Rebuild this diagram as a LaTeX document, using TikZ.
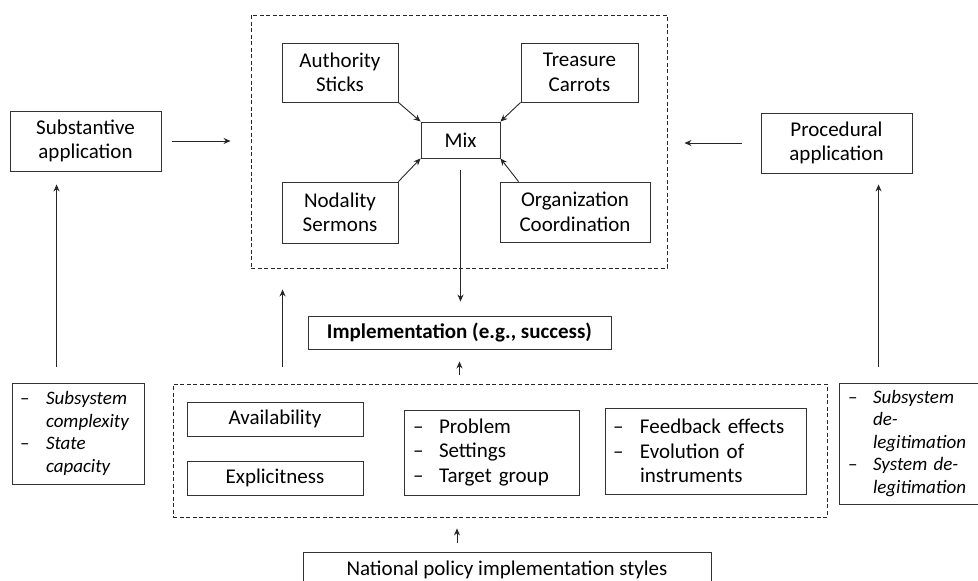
\documentclass[tikz,border=0pt]{standalone}
\usepackage{fontspec}
\setmainfont{Carlito}
\usetikzlibrary{arrows.meta, positioning}

\newcommand{\itemdash}[1][26pt]{\makebox[#1][l]{\upshape –}}

\begin{document}
\begin{tikzpicture}[x=1pt, y=-1pt, on grid, line width=0.9pt, >={Stealth[length=7pt, width=6pt]},
    box/.style={draw=black!80, align=center, inner sep=0pt,
                font=\fontsize{21}{24.5}\selectfont},
    listbox/.style={box, align=left},
    sidelist/.style={listbox, font=\fontsize{19}{22.5}\selectfont\itshape},
    frame/.style={draw=black!85, dash pattern=on 4pt off 2.5pt},
    conn/.style={->, draw=black!85}]
    \useasboundingbox (0,0) rectangle (978,581);
    \clip (0,0) rectangle (978,581);

    % instrument mix
    \node[frame, minimum width=416pt, minimum height=253pt] (mixframe) at (459,141.5) {};
    \node[box, minimum width=79pt, minimum height=36pt] (mix) at (460.5,140) {Mix};
    \node[box, minimum width=116pt, minimum height=59pt] (auth) at (340,72.5) {Authority\\Sticks};
    \node[box, minimum width=117pt, minimum height=59pt, right=239.5pt of auth] (treas) {Treasure\\Carrots};
    \node[box, minimum width=116pt, minimum height=61pt, below=140pt of auth] (nodal) {Nodality\\Sermons};
    \node[box, minimum width=150pt, minimum height=60pt] (org) at (575,212) {Organization\\Coordination};

    % applications
    \node[box, minimum width=151pt, minimum height=60pt] (subst) at (85.5,141) {Substantive\\application};
    \node[box, minimum width=151pt, minimum height=60pt] (proc) at (836.5,143) {Procedural\\application};

    \node[box, minimum width=303pt, minimum height=33pt] (impl) at (459.5,332.5) {\bfseries Implementation (e.g., success)};

    % factors
    \node[frame, minimum width=654pt, minimum height=133pt] (factframe) at (500,450.5) {};
    \node[box, minimum width=176pt, minimum height=34pt] (avail) at (275,419) {Availability};
    \node[box, minimum width=176pt, minimum height=34pt, below=59pt of avail] (explic) {Explicitness};
    \node[listbox, minimum height=85pt, inner xsep=9pt, text width=157pt] (prob) at (491.5,452.5)
        {\itemdash Problem\\\itemdash Settings\\\itemdash Target group};
    \node[listbox, minimum height=86pt, inner xsep=8pt, text width=185pt] (feed) at (705.5,451)
        {\itemdash[27pt]Feedback effects\\\itemdash[27pt]Evolution of\\\hspace*{27pt}instruments};
    \node[box, minimum width=408pt, minimum height=36pt] (natl) at (507,570) {National policy implementation styles};

    \node[sidelist, minimum height=101pt, inner xsep=8pt, text width=116pt] (subl) at (78,433.5)
        {\itemdash Subsystem\\\hspace*{26pt}complexity\\\itemdash State\\\hspace*{26pt}capacity};
    \node[sidelist, minimum height=121pt, inner xsep=9pt, text width=133pt] (procl) at (914.5,443.5)
        {\itemdash[25pt]Subsystem\\\hspace*{25pt}de-\\\hspace*{25pt}legitimation\\\itemdash[25pt]System de-\\\hspace*{25pt}legitimation};

    % connectors
    \draw[conn] (auth.south east) -- (mix.north west);
    \draw[conn] (treas.south west) -- (mix.north east);
    \draw[conn] (nodal.north east) -- (mix.south west);
    \draw[conn] ([xshift=19pt]org.north west) -- (mix.south east);
    \draw[conn, shorten <=12pt, shorten >=14pt] (mix.south) -- (mix.south |- impl.north);
    \draw[conn, shorten <=9pt, shorten >=12pt] (impl.south |- factframe.north) -- (impl.south);
    \draw[conn, shorten <=9pt, shorten >=11pt] ([xshift=-50pt]natl.north) -- ([xshift=-50pt]natl.north |- factframe.south);
    \draw[conn, shorten <=17pt, shorten >=21pt] ([xshift=110pt]factframe.north west) -- ([xshift=110pt]factframe.north west |- mixframe.south);
    \draw[conn, shorten <=11pt, shorten >=20pt] (subst.east) -- (subst.east -| mixframe.west);
    \draw[conn, shorten <=19pt, shorten >=17pt] (proc.west) -- (proc.west -| mixframe.east);
    \draw[conn, shorten <=16pt, shorten >=13pt] ([xshift=45pt]subl.north west) -- ([xshift=45pt]subl.north west |- subst.south);
    \draw[conn, shorten <=16pt, shorten >=11pt] ([xshift=40pt]procl.north west) -- ([xshift=40pt]procl.north west |- proc.south);
\end{tikzpicture}
\end{document}
